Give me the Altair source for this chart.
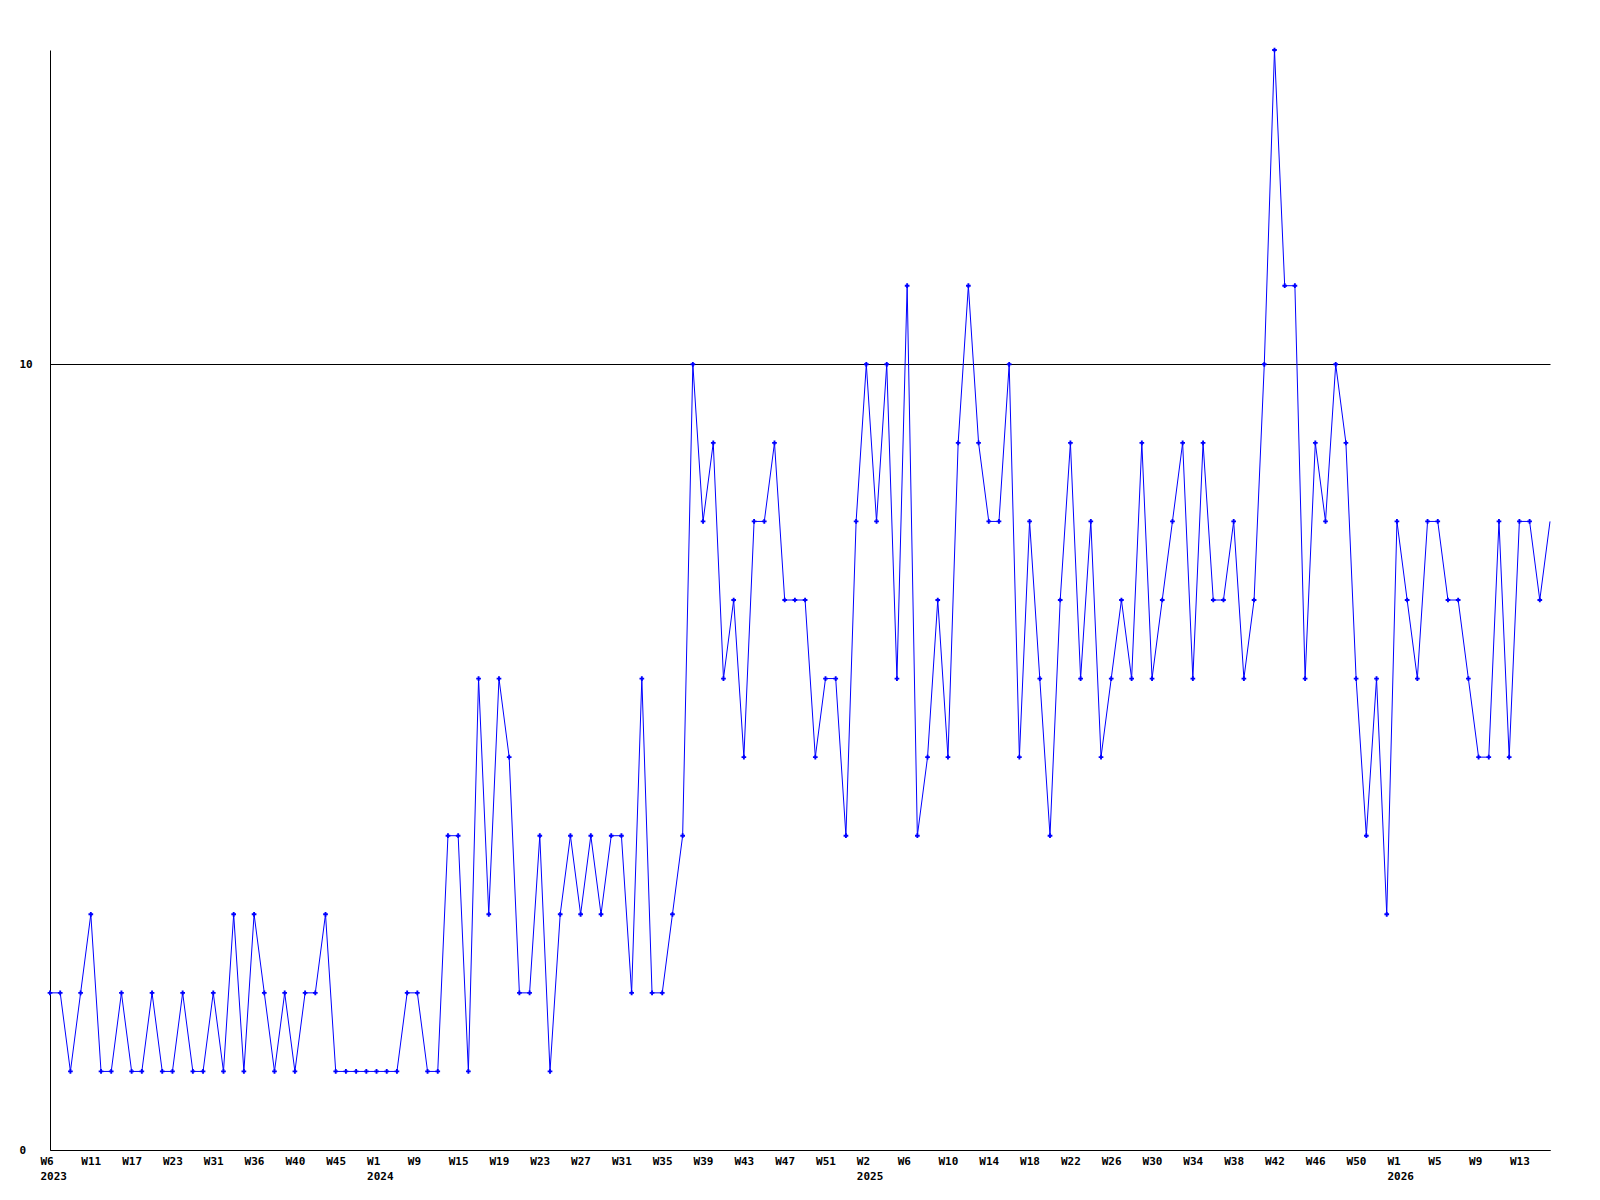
import json
import altair as alt
import pandas as pd

# weekly values, one per point (ordinal position)
values = [
    2, 2, 1, 2, 3, 1, 1, 2, 1, 1, 2, 1, 1, 2, 1, 1, 2, 1, 3, 1,
    3, 2, 1, 2, 1, 2, 2, 3, 1, 1, 1, 1, 1, 1, 1, 2, 2, 1, 1, 4,
    4, 1, 6, 3, 6, 5, 2, 2, 4, 1, 3, 4, 3, 4, 3, 4, 4, 2, 6, 2,
    2, 3, 4, 10, 8, 9, 6, 7, 5, 8, 8, 9, 7, 7, 7, 5, 6, 6, 4, 8,
    10, 8, 10, 6, 11, 4, 5, 7, 5, 9, 11, 9, 8, 8, 10, 5, 8, 6, 4, 7,
    9, 6, 8, 5, 6, 7, 6, 9, 6, 7, 8, 9, 6, 9, 7, 7, 8, 6, 7, 10,
    14, 11, 11, 6, 9, 8, 10, 9, 6, 4, 6, 3, 8, 7, 6, 8, 8, 7, 7, 6,
    5, 5, 8, 5, 8, 8, 7, 8,
]

# tick labels, one for every 4th point
week_labels = [
    "W6", "W11", "W17", "W23", "W31", "W36", "W40", "W45",
    "W1", "W9", "W15", "W19", "W23", "W27", "W31", "W35", "W39", "W43", "W47", "W51",
    "W2", "W6", "W10", "W14", "W18", "W22", "W26", "W30", "W34", "W38", "W42", "W46", "W50",
    "W1", "W5", "W9", "W13",
]
year_labels = {0: "2023", 8: "2024", 20: "2025", 33: "2026"}
year_row = [year_labels.get(k, "") for k in range(len(week_labels))]

df = pd.DataFrame({"i": list(range(len(values))), "v": values})
n = len(values)

tick_vals = [4 * k for k in range(len(week_labels))]
label_expr = (
    "[" + json.dumps(week_labels) + "[round(datum.value/4)], "
    + json.dumps(year_row) + "[round(datum.value/4)]]"
)

FONT = "DejaVu Sans Mono"

x = alt.X(
    "i:Q",
    scale=alt.Scale(domain=[0, n - 1], nice=False, zero=False),
    axis=alt.Axis(
        values=tick_vals,
        labelExpr=label_expr,
        title=None,
        grid=False,
        ticks=False,
        domainColor="black",
        domainWidth=1,
        labelAlign="left",
        labelBaseline="top",
        labelOffset=-10,
        labelPadding=5,
        labelLineHeight=15,
        labelFont=FONT,
        labelFontWeight="bold",
        labelFontSize=11,
        labelColor="black",
        labelOverlap=False,
        labelFlush=False,
        labelBound=False,
    ),
)
y = alt.Y(
    "v:Q",
    scale=alt.Scale(domain=[0, 14], nice=False),
    axis=alt.Axis(
        values=[0, 10],
        format="d",
        title=None,
        grid=True,
        gridColor="black",
        gridOpacity=1,
        gridWidth=1,
        ticks=False,
        domainColor="black",
        domainWidth=1,
        labelAlign="left",
        labelBaseline="middle",
        labelPadding=31,
        labelFont=FONT,
        labelFontWeight="bold",
        labelFontSize=11,
        labelColor="black",
    ),
)

line = alt.Chart(df).mark_line(color="#0000ff", strokeWidth=1).encode(x=x, y=y)
pts = (
    alt.Chart(df)
    .transform_filter(f"datum.i < {n - 1}")
    .mark_point(shape="cross", filled=True, size=22, color="#0000ff", opacity=1)
    .encode(x="i:Q", y="v:Q")
)

chart = (
    alt.layer(line, pts)
    .properties(
        width=1500,
        height=1100,
        autosize=alt.AutoSizeParams(type="none"),
        padding={"left": 42, "top": 42, "right": 20, "bottom": 60},
    )
    .configure_view(stroke=None)
)

chart.save("out.html", embed_options={"renderer": "svg", "actions": False})
